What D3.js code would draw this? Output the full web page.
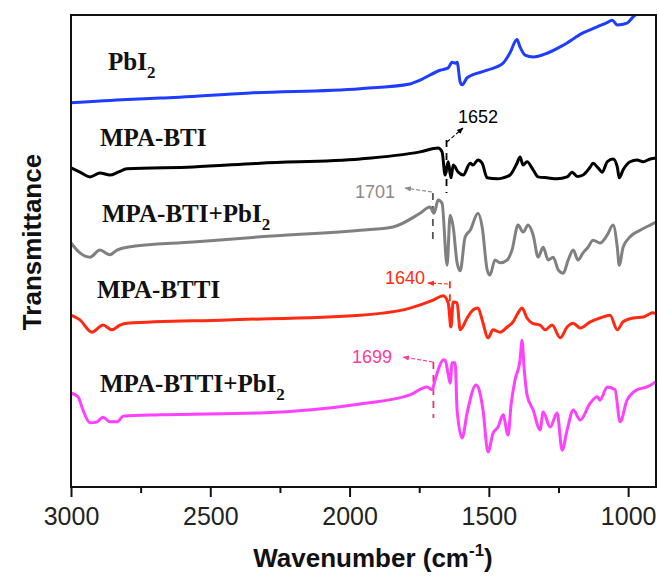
<!DOCTYPE html>
<html>
<head>
<meta charset="utf-8">
<script src="https://cdn.jsdelivr.net/npm/d3@7"></script>
<style>
  html, body { margin: 0; padding: 0; background: #fff; }
  svg { display: block; }
</style>
</head>
<body>
<svg id="chart" width="659" height="577"></svg>
<script>
// FTIR spectra, wavenumber (cm-1) vs. offset transmittance (a.u.)
const seriesNames = ["PbI2", "MPA-BTI", "MPA-BTI+PbI2", "MPA-BTTI", "MPA-BTTI+PbI2"];

const pbi2 = [
  [3000, 81.4], [2799, 82.1], [2680, 82.4], [2357, 83.5], [1962, 84.4], [1783, 85.4],
  [1747, 86.2], [1675, 88.3], [1646, 88.8], [1632, 90.0], [1621, 89.8], [1614, 90.0],
  [1603, 85.8], [1596, 85.2], [1578, 86.7], [1506, 88.3], [1449, 89.8], [1424, 92.0],
  [1399, 94.8], [1388, 93.2], [1370, 91.5], [1341, 91.1], [1291, 91.9], [1233, 93.6],
  [1162, 96.2], [1111, 97.5], [1072, 98.5], [1057, 98.9], [1039, 97.9], [1004, 98.3],
  [982, 99.6], [970, 100.2]
];

const mpaBTI = [
  [3000, 67.6], [2968, 66.7], [2932, 65.7], [2896, 66.5], [2860, 66.1], [2831, 66.7],
  [2799, 67.4], [2562, 67.8], [2321, 68.6], [1962, 69.5], [1747, 71.0], [1682, 71.8],
  [1668, 71.0], [1657, 66.1], [1646, 68.9], [1636, 65.5], [1628, 68.2], [1610, 66.7],
  [1592, 66.1], [1567, 68.6], [1557, 68.2], [1539, 69.3], [1524, 68.6], [1506, 65.5],
  [1470, 65.3], [1449, 65.5], [1424, 66.1], [1399, 68.6], [1388, 69.9], [1377, 68.2],
  [1363, 68.9], [1341, 67.2], [1323, 65.7], [1291, 65.5], [1255, 65.3], [1219, 65.7],
  [1201, 66.7], [1183, 65.8], [1162, 66.1], [1136, 67.8], [1126, 68.6], [1108, 67.6],
  [1093, 66.7], [1075, 68.9], [1054, 69.5], [1039, 67.8], [1032, 65.5], [1018, 67.2],
  [993, 68.9], [968, 69.3], [946, 68.9], [921, 69.5], [900, 69.7]
];

const mpaBTIPbI2 = [
  [3000, 51.7], [2968, 49.6], [2932, 48.7], [2896, 50.2], [2860, 49.2], [2835, 50.2],
  [2799, 50.8], [2562, 51.9], [2321, 53.0], [1962, 54.4], [1844, 55.1], [1747, 58.0],
  [1711, 59.3], [1697, 58.0], [1682, 60.8], [1668, 60.1], [1650, 47.0], [1639, 57.6],
  [1628, 55.1], [1614, 47.5], [1603, 45.8], [1585, 53.0], [1567, 54.4], [1539, 58.0],
  [1524, 55.1], [1506, 46.0], [1496, 44.9], [1478, 48.1], [1460, 47.5], [1434, 48.1],
  [1417, 50.2], [1395, 55.5], [1377, 54.0], [1359, 55.5], [1341, 53.4], [1323, 48.7],
  [1305, 50.8], [1287, 48.1], [1269, 48.7], [1251, 46.0], [1233, 45.3], [1215, 48.1],
  [1197, 50.2], [1180, 48.1], [1162, 49.6], [1144, 50.8], [1126, 52.3], [1101, 51.7],
  [1075, 53.4], [1054, 55.5], [1039, 50.8], [1032, 47.0], [1018, 50.8], [993, 53.0],
  [957, 54.4], [921, 55.5], [900, 56.1]
];

const mpaBTTI = [
  [3000, 36.4], [2968, 35.4], [2925, 32.8], [2885, 34.3], [2853, 33.3], [2824, 34.3],
  [2799, 34.7], [2440, 35.4], [1962, 36.4], [1783, 37.9], [1700, 39.6], [1664, 40.5],
  [1646, 39.0], [1636, 33.9], [1628, 39.2], [1614, 39.0], [1603, 33.3], [1578, 35.8],
  [1557, 37.5], [1539, 37.9], [1524, 35.4], [1503, 31.6], [1485, 33.3], [1460, 32.8],
  [1434, 33.9], [1413, 35.0], [1395, 36.9], [1381, 37.9], [1363, 35.8], [1345, 34.7],
  [1316, 34.3], [1298, 33.3], [1273, 34.3], [1244, 31.6], [1219, 33.9], [1197, 34.7],
  [1172, 33.7], [1136, 35.0], [1101, 35.8], [1065, 36.4], [1039, 33.3], [1018, 35.0],
  [982, 35.8], [946, 36.0], [911, 36.9], [900, 36.7]
];

const mpaBTTIPbI2 = [
  [3000, 19.9], [2975, 19.1], [2957, 16.3], [2932, 13.6], [2907, 13.8], [2885, 14.8],
  [2860, 13.8], [2835, 13.8], [2813, 15.0], [2680, 15.3], [2321, 15.7], [1962, 17.6],
  [1783, 19.5], [1722, 21.2], [1704, 20.6], [1693, 22.7], [1682, 24.8], [1664, 26.9],
  [1657, 26.9], [1646, 23.9], [1639, 22.0], [1632, 26.3], [1621, 26.3], [1614, 16.3],
  [1596, 10.4], [1578, 15.7], [1546, 21.6], [1535, 20.6], [1521, 16.3], [1503, 7.4],
  [1485, 11.4], [1467, 12.7], [1449, 15.3], [1431, 11.0], [1420, 17.6], [1406, 22.7],
  [1388, 26.9], [1381, 31.1], [1373, 24.8], [1363, 19.5], [1341, 16.3], [1316, 12.1],
  [1305, 15.9], [1280, 12.7], [1255, 15.7], [1237, 7.8], [1219, 12.1], [1197, 16.3],
  [1172, 14.2], [1136, 17.8], [1111, 19.1], [1101, 18.4], [1075, 21.2], [1047, 20.6],
  [1029, 13.8], [1004, 18.4], [968, 20.6], [932, 21.2], [900, 22.3]
];

const xTicks = [3000, 2500, 2000, 1500, 1000];
const xMinorTicks = [2750, 2250, 1750, 1250];
const peakLabels = ["1652", "1701", "1640", "1699"];

// ---- drawing ----
const svg = d3.select("#chart");
const plotLeft = 71, plotRight = 656, plotTop = 15, plotBottom = 487;

const x = d3.scaleLinear().domain([3000, 900]).range([plotLeft, plotRight]);
const y = d3.scaleLinear().domain([0, 100]).range([plotBottom, plotTop]);

const defs = svg.append("defs");
defs.append("clipPath").attr("id", "plotClip")
  .append("rect").attr("x", plotLeft).attr("y", plotTop)
  .attr("width", plotRight - plotLeft).attr("height", plotBottom - plotTop);

const styles = [
  { data: pbi2,        color: "#1f3dff", label: "PbI", sub: "2", lx: 108, ly: 70 },
  { data: mpaBTI,      color: "#000000", label: "MPA-BTI", sub: "", lx: 100, ly: 146 },
  { data: mpaBTIPbI2,  color: "#808080", label: "MPA-BTI+PbI", sub: "2", lx: 102, ly: 222 },
  { data: mpaBTTI,     color: "#ff2a12", label: "MPA-BTTI", sub: "", lx: 97, ly: 298 },
  { data: mpaBTTIPbI2, color: "#ff40ff", label: "MPA-BTTI+PbI", sub: "2", lx: 100, ly: 392 }
];

const line = d3.line().x(d => x(d[0])).y(d => y(d[1])).curve(d3.curveMonotoneX);

// peak markers: vertical dashed guide, arrow and wavenumber label
const markerLayout = [
  { w: +peakLabels[0], y0: 73.5, y1: 62.3, color: "#000", lineColor: "#000",
    from: [447, 142], to: [463, 128], tx: 458, ty: 123, anchor: "start" },
  { w: +peakLabels[1], y0: 62.3, y1: 51.3, color: "#8a8a8a", lineColor: "#555",
    from: [432, 192], to: [405, 188], tx: 395, ty: 198, anchor: "end" },
  { w: +peakLabels[2], y0: 43.6, y1: 32.8, color: "#ff2a12", lineColor: "#ff2a12",
    from: [448, 284], to: [428, 283], tx: 425, ty: 284, anchor: "end" },
  { w: +peakLabels[3], y0: 26.5, y1: 14.6, color: "#ff3a9a", lineColor: "#e8336b",
    from: [433, 362], to: [403, 357], tx: 392, ty: 363, anchor: "end" }
];

markerLayout.forEach((m, i) => {
  defs.append("marker").attr("id", "ah" + i)
    .attr("viewBox", "0 0 10 10").attr("refX", 9).attr("refY", 5)
    .attr("markerWidth", 6).attr("markerHeight", 6).attr("orient", "auto")
    .append("path").attr("d", "M0,1 L10,5 L0,9 Z").attr("fill", m.color);
});

const guides = svg.append("g");
markerLayout.forEach((m, i) => {
  guides.append("line")
    .attr("x1", x(m.w)).attr("x2", x(m.w))
    .attr("y1", y(m.y0)).attr("y2", y(m.y1))
    .attr("stroke", m.lineColor).attr("stroke-width", 1.8)
    .attr("stroke-dasharray", "7,6");
  guides.append("line")
    .attr("x1", m.from[0]).attr("y1", m.from[1])
    .attr("x2", m.to[0]).attr("y2", m.to[1])
    .attr("stroke", m.color).attr("stroke-width", 1.1)
    .attr("stroke-dasharray", "4,2")
    .attr("marker-end", "url(#ah" + i + ")");
  guides.append("text")
    .attr("x", m.tx).attr("y", m.ty)
    .attr("text-anchor", m.anchor)
    .attr("font-family", "Liberation Sans, Arial, sans-serif")
    .attr("font-size", 18)
    .attr("fill", m.color)
    .text(peakLabels[i]);
});

// spectra
const plot = svg.append("g").attr("clip-path", "url(#plotClip)");
styles.forEach(s => {
  plot.append("path").datum(s.data)
    .attr("d", line)
    .attr("fill", "none")
    .attr("stroke", s.color)
    .attr("stroke-width", 3)
    .attr("stroke-linejoin", "round");
});

// series labels
styles.forEach(s => {
  const t = svg.append("text")
    .attr("x", s.lx).attr("y", s.ly)
    .attr("font-family", "Liberation Serif, Times New Roman, serif")
    .attr("font-weight", "bold")
    .attr("font-size", 25)
    .attr("fill", "#111");
  t.append("tspan").text(s.label);
  if (s.sub) t.append("tspan").attr("dy", 8).attr("font-size", 17).text(s.sub);
});

// frame
svg.append("rect")
  .attr("x", plotLeft).attr("y", plotTop)
  .attr("width", plotRight - plotLeft).attr("height", plotBottom - plotTop)
  .attr("fill", "none").attr("stroke", "#111").attr("stroke-width", 2);

// x axis
const xAxis = svg.append("g").attr("transform", `translate(0,${plotBottom})`)
  .call(d3.axisBottom(x).tickValues(xTicks).tickSize(10).tickPadding(10)
    .tickFormat(d3.format("d")));
xAxis.select(".domain").remove();
xAxis.selectAll(".tick line").attr("stroke", "#111").attr("stroke-width", 2);
xAxis.selectAll(".tick text")
  .attr("font-family", "Liberation Sans, Arial, sans-serif")
  .attr("font-size", 25).attr("fill", "#222");

const xMinor = svg.append("g").attr("transform", `translate(0,${plotBottom})`)
  .call(d3.axisBottom(x).tickValues(xMinorTicks).tickSize(6).tickFormat(""));
xMinor.select(".domain").remove();
xMinor.selectAll(".tick line").attr("stroke", "#111").attr("stroke-width", 2);

// axis titles
const xt = svg.append("text")
  .attr("x", 373).attr("y", 567).attr("text-anchor", "middle")
  .attr("font-family", "Liberation Sans, Arial, sans-serif")
  .attr("font-weight", "bold").attr("font-size", 26).attr("fill", "#111");
xt.append("tspan").text("Wavenumber (cm");
xt.append("tspan").attr("dy", -11).attr("font-size", 17).text("-1");
xt.append("tspan").attr("dy", 11).text(")");

svg.append("text")
  .attr("transform", "translate(41,242) rotate(-90)")
  .attr("text-anchor", "middle")
  .attr("font-family", "Liberation Sans, Arial, sans-serif")
  .attr("font-weight", "bold").attr("font-size", 26).attr("fill", "#111")
  .text("Transmittance");
</script>
</body>
</html>
